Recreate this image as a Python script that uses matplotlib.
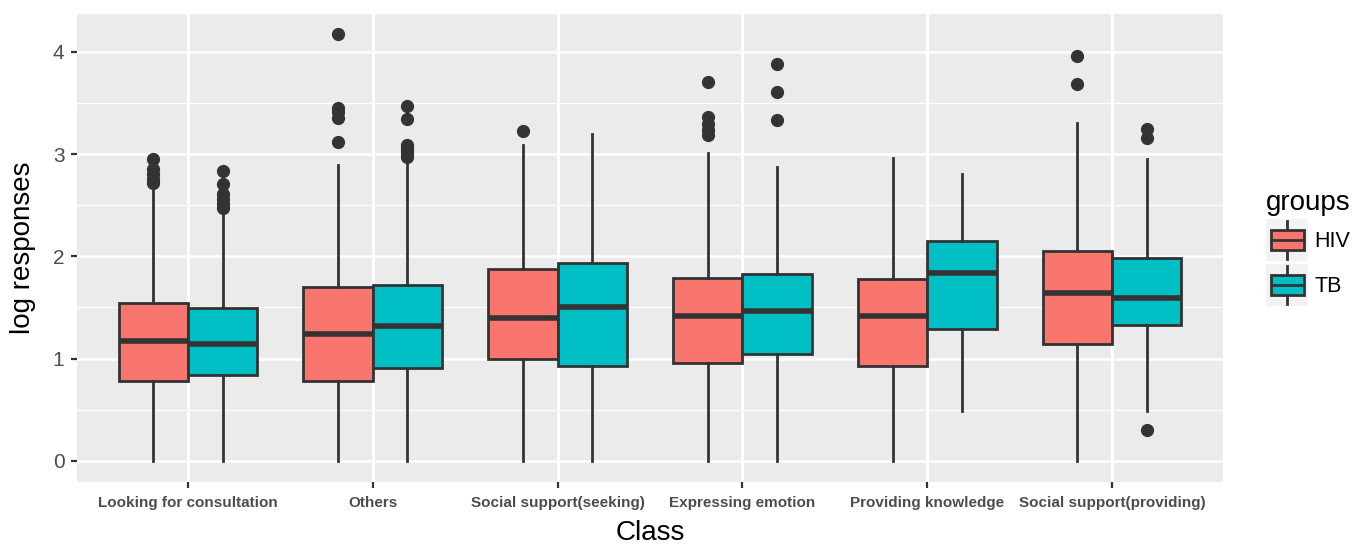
import matplotlib
matplotlib.use("Agg")
import matplotlib.pyplot as plt
from matplotlib.patches import Rectangle
from matplotlib.lines import Line2D
from matplotlib.legend_handler import HandlerBase
from matplotlib.ticker import MultipleLocator

plt.rcParams['font.family'] = ['Liberation Sans', 'DejaVu Sans']

categories = ["Looking for consultation", "Others", "Social support(seeking)",
              "Expressing emotion", "Providing knowledge", "Social support(providing)"]
groups = ["HIV", "TB"]
colors = {"HIV": "#F8766D", "TB": "#00BFC4"}

# box statistics per group, in category order
hiv_q1 = [0.78, 0.78, 1.00, 0.955, 0.93, 1.145]
hiv_med = [1.175, 1.237, 1.40, 1.416, 1.416, 1.636]
hiv_q3 = [1.54, 1.70, 1.877, 1.79, 1.78, 2.056]
hiv_whislo = [0.0, 0.0, 0.0, 0.0, 0.0, 0.0]
hiv_whishi = [2.68, 2.89, 3.09, 3.015, 2.96, 3.30]
hiv_fliers = [[2.72, 2.76, 2.80, 2.85, 2.95],
              [3.12, 3.35, 3.41, 3.45, 4.17],
              [3.225],
              [3.19, 3.24, 3.29, 3.36, 3.70],
              [],
              [3.69, 3.96]]

tb_q1 = [0.84, 0.905, 0.93, 1.043, 1.29, 1.33]
tb_med = [1.145, 1.32, 1.504, 1.463, 1.84, 1.59]
tb_q3 = [1.49, 1.72, 1.93, 1.83, 2.15, 1.98]
tb_whislo = [0.0, 0.0, 0.0, 0.0, 0.485, 0.485]
tb_whishi = [2.44, 2.93, 3.20, 2.87, 2.80, 2.95]
tb_fliers = [[2.47, 2.51, 2.56, 2.61, 2.71, 2.83],
             [2.97, 3.00, 3.03, 3.06, 3.09, 3.34, 3.47],
             [],
             [3.33, 3.61, 3.88],
             [],
             [0.30, 3.16, 3.245]]

yticks = [0, 1, 2, 3, 4]

W, H = 1358, 544
fig = plt.figure(figsize=(W / 100, H / 100), dpi=100)
ax_bottom, ax_top = 482, 14
ax = fig.add_axes([77 / W, 1 - ax_bottom / H, (1223 - 77) / W, (ax_bottom - ax_top) / H])
ax.set_facecolor("#EBEBEB")
for s in ax.spines.values():
    s.set_visible(False)

edge = "#333333"
box_w = 0.375

def make_stats(q1, med, q3, lo, hi, fl):
    return [dict(q1=a, med=b, q3=c, whislo=d, whishi=e, fliers=f)
            for a, b, c, d, e, f in zip(q1, med, q3, lo, hi, fl)]

series = {
    "HIV": make_stats(hiv_q1, hiv_med, hiv_q3, hiv_whislo, hiv_whishi, hiv_fliers),
    "TB": make_stats(tb_q1, tb_med, tb_q3, tb_whislo, tb_whishi, tb_fliers),
}
offsets = {"HIV": -box_w / 2, "TB": box_w / 2}

for g in groups:
    pos = [i + offsets[g] for i in range(len(categories))]
    ax.bxp(series[g], positions=pos, widths=box_w, patch_artist=True,
           showcaps=False, manage_ticks=False,
           boxprops=dict(facecolor=colors[g], edgecolor=edge, linewidth=2.0),
           whiskerprops=dict(color=edge, linewidth=2.0),
           medianprops=dict(color=edge, linewidth=4.0, solid_capstyle='butt'),
           flierprops=dict(marker='o', markerfacecolor=edge, markeredgecolor=edge,
                           markersize=8.5, linestyle='none'),
           zorder=3)

ax.set_xlim(-0.6, len(categories) - 0.4)
ax.set_ylim(-0.208, 4.37)
ax.set_xticks(range(len(categories)))
ax.set_xticklabels(categories, fontsize=11, fontweight='bold', color="#4D4D4D")
for lab in ax.get_xticklabels():
    lab.set_verticalalignment('baseline')
ax.set_yticks(yticks)
ax.set_yticklabels([str(v) for v in yticks], fontsize=15, color="#4D4D4D")
ax.yaxis.set_minor_locator(MultipleLocator(0.5))
ax.tick_params(axis='x', which='major', color=edge, length=4, width=1.6, pad=14)
ax.tick_params(axis='y', which='major', color=edge, length=4, width=1.6, pad=5)
ax.tick_params(axis='y', which='minor', length=0)
ax.grid(which='major', axis='y', color='white', linewidth=1.8, zorder=0)
ax.grid(which='minor', axis='y', color='white', linewidth=0.9, zorder=0)
ax.grid(which='major', axis='x', color='white', linewidth=2.2, zorder=0)
ax.set_axisbelow(True)
ax.set_xlabel("Class", fontsize=20)
ax.xaxis.label.set_verticalalignment('baseline')
ax.xaxis.set_label_coords(0.5, -(540 - ax_bottom) / (ax_bottom - ax_top))
ax.set_ylabel("log responses", fontsize=20, labelpad=12)


class BoxHandler(HandlerBase):
    def create_artists(self, legend, orig_handle, xdescent, ydescent,
                       width, height, fontsize, trans):
        x0, y0 = -xdescent, -ydescent
        fc = orig_handle.get_facecolor()
        bg = Rectangle((x0, y0), width, height, facecolor="#F2F2F2",
                       edgecolor='none', transform=trans)
        wlo = Line2D([x0 + width / 2] * 2, [y0 + 0.05 * height, y0 + 0.27 * height],
                     color=edge, lw=2.0, transform=trans)
        whi = Line2D([x0 + width / 2] * 2, [y0 + 0.73 * height, y0 + 0.95 * height],
                     color=edge, lw=2.0, transform=trans)
        box = Rectangle((x0 + 0.12 * width, y0 + 0.27 * height), 0.78 * width,
                        0.46 * height, facecolor=fc, edgecolor=edge, lw=2.0,
                        transform=trans)
        med = Line2D([x0 + 0.12 * width, x0 + 0.90 * width], [y0 + height / 2] * 2,
                     color=edge, lw=2.0, transform=trans)
        return [bg, wlo, whi, box, med]


handles = [Rectangle((0, 0), 1, 1, facecolor=colors[g]) for g in groups]
leg = fig.legend(handles, groups, handler_map={Rectangle: BoxHandler()},
                 loc='upper left', bbox_to_anchor=(1266 / W, 1 - 190 / H),
                 frameon=False, fontsize=15.5, title="groups", title_fontsize=20,
                 handlelength=1.95, handleheight=2.63, labelspacing=0.14,
                 handletextpad=0.3, borderpad=0, borderaxespad=0, alignment='left')

fig.savefig("out.png", dpi=100)
